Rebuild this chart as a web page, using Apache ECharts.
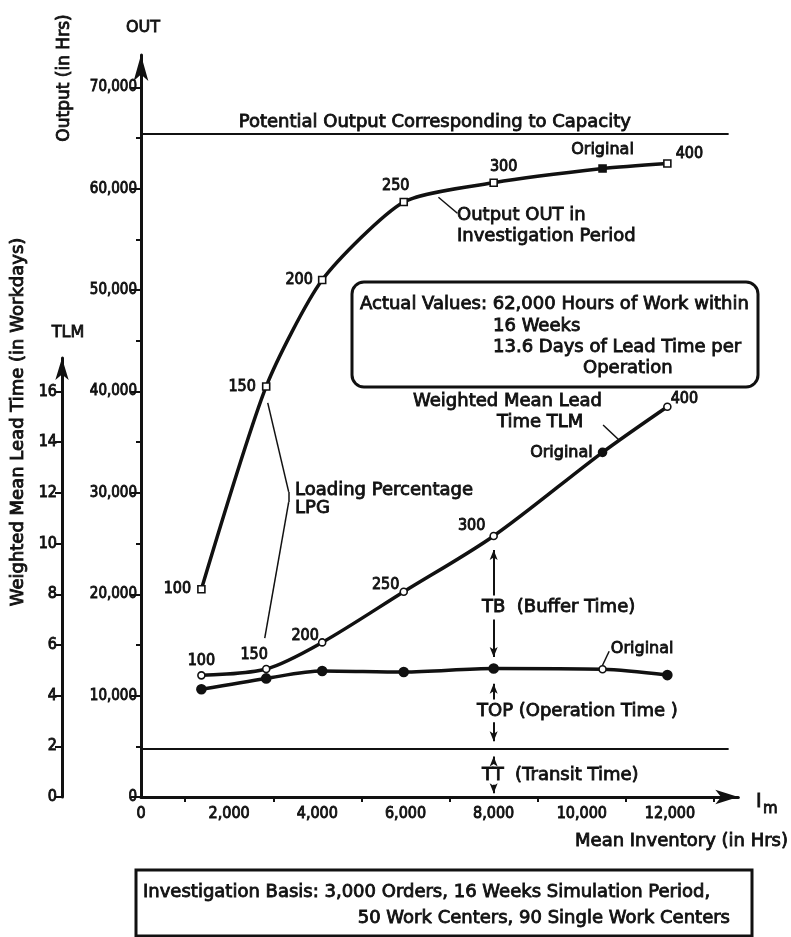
<!DOCTYPE html>
<html>
<head>
<meta charset="utf-8">
<script src="https://cdn.jsdelivr.net/npm/echarts@6/dist/echarts.min.js"></script>
<style>
  html, body { margin: 0; padding: 0; background: #fff; }
  #chart { width: 791px; height: 937px; }
</style>
</head>
<body>
<div id="chart"></div>
<script>
// Simulation runs at different loading percentages (LPG)
const lpgLabels = ['100', '150', '200', '250', '300', 'Original', '400'];
const meanInventory = [1370, 2840, 4110, 5960, 8000, 10470, 11940];      // Im, hours
const outputHours = [20500, 40500, 51000, 58700, 60600, 62000, 62500];   // OUT, hours
const leadTimeTLM = [4.8, 5.05, 6.1, 8.1, 10.3, 13.6, 15.4];             // TLM, workdays
const operationTimeTOP = [4.25, 4.68, 4.97, 4.93, 5.07, 5.04, 4.81];     // TOP, workdays
const originalIndex = 5;

// Reference levels
const potentialOutput = 65400;   // capacity line, hours
const transitTime = 1.9;         // TT level, workdays
const bufferAt = 8000;           // inventory where the time components are shown

// Axis ticks
const outTicks = [0, 10000, 20000, 30000, 40000, 50000, 60000, 70000];
const outMinorTicks = [5000, 15000, 25000, 35000, 45000, 55000, 65000];
const tlmTicks = [0, 2, 4, 6, 8, 10, 12, 14, 16];
const inventoryTicks = [0, 2000, 4000, 6000, 8000, 10000, 12000];
const inventoryMinorTicks = [1000, 3000, 5000, 7000, 9000, 11000, 13000];

// Layout
const INK = '#111';
const FONT = '"DejaVu Sans", sans-serif';
const NUMFONT = '"DejaVu Sans Condensed", "DejaVu Sans", sans-serif';
const outMax = 73200;
const hoursPerDay = 2500;               // 16 workdays share the height of 40,000 hours
const tlmMax = outMax / hoursPerDay;
const plotTop = 55, plotBottom = 140, plotHeight = 937 - plotTop - plotBottom;
const tlmAxisTop = 358;
const tlmAxisMax = tlmMax * (937 - plotBottom - tlmAxisTop) / plotHeight;
const xMax = 13550;
const lineEnd = 13330;
const WEIGHT = 0.85;                    // text outline that thickens the strokes

const fmt = v => Number(v).toLocaleString('en-US');

const outLabelPlace = [
  { position: 'left', distance: 6 },
  { position: 'left', distance: 6 },
  { position: 'left', distance: 5 },
  { position: 'top', distance: 4, offset: [-8, 0] },
  { position: 'top', distance: 4, offset: [10, 0] },
  { position: 'top', distance: 6 },
  { position: 'right', distance: 4, offset: [0, -10] }
];
const tlmLabelPlace = [
  { position: 'top', distance: 2 },
  { position: 'top', distance: 2, offset: [-12, 0] },
  { position: 'left', distance: 3, offset: [4, -7] },
  { position: 'left', distance: 2, offset: [2, -7] },
  { position: 'left', distance: 4, offset: [0, -10] },
  { position: 'left', distance: 5 },
  { position: 'right', distance: 2, offset: [-3, -8] }
];

const heavy = { textBorderColor: INK, textBorderWidth: WEIGHT };
const numFont = Object.assign({ fontFamily: NUMFONT, fontSize: 16, color: INK }, heavy);
const wordFont = Object.assign({ fontFamily: FONT, fontSize: 16, color: INK }, heavy);

const outData = meanInventory.map((x, i) => ({
  value: [x, outputHours[i]],
  itemStyle: { color: i === originalIndex ? INK : '#fff', borderColor: INK, borderWidth: 1.6 },
  label: Object.assign({ show: true, formatter: lpgLabels[i] },
    i === originalIndex ? wordFont : numFont, outLabelPlace[i])
}));
const tlmData = meanInventory.map((x, i) => ({
  value: [x, leadTimeTLM[i]],
  itemStyle: { color: i === originalIndex ? INK : '#fff', borderColor: INK, borderWidth: 1.6 },
  symbolSize: i === originalIndex ? 8 : 7,
  label: Object.assign({ show: true, formatter: lpgLabels[i] },
    i === originalIndex ? wordFont : numFont, tlmLabelPlace[i])
}));
const topData = meanInventory.map((x, i) => ({
  value: [x, operationTimeTOP[i]],
  itemStyle: { color: i === originalIndex ? '#fff' : INK, borderColor: INK, borderWidth: 1.6 },
  symbolSize: i === originalIndex ? 7 : 9,
  label: i === originalIndex
    ? Object.assign({ show: true, formatter: 'Original', position: 'right', distance: 4, offset: [0, -20] }, wordFont)
    : { show: false }
}));

// Component arrows of the lead time at the chosen inventory level
const tlmAt = leadTimeTLM[meanInventory.indexOf(bufferAt)];
const topAt = operationTimeTOP[meanInventory.indexOf(bufferAt)];
const seg = (a, b) => [
  { coord: [bufferAt, a], symbol: 'none' },
  { coord: [bufferAt, b], symbol: 'arrow' }
];
const componentArrows = [
  seg(7.95, tlmAt - 0.55),
  seg(7.0, topAt + 0.45),
  seg(3.85, topAt - 0.6),
  seg(2.95, transitTime + 0.3),
  seg(1.3, transitTime - 0.3),
  seg(0.48, 0.15)
];

const thin = { color: INK, width: 1.5, type: 'solid' };

function note(x, y, text, extra) {
  return {
    type: 'text', x: x, y: y, z: 2,
    style: Object.assign({
      text: text, verticalAlign: 'middle', font: '18px ' + FONT,
      fill: INK, stroke: INK, lineWidth: WEIGHT
    }, extra || {})
  };
}

const axisText = Object.assign({ fontFamily: NUMFONT, fontSize: 16, color: INK }, heavy);

const option = {
  animation: false,
  backgroundColor: '#fff',
  textStyle: { fontFamily: FONT, color: INK },
  grid: [
    { left: 141, top: plotTop, bottom: plotBottom, right: 791 - 141 - xMax * (670 - 141) / 12000 },
    { left: 62, top: tlmAxisTop, bottom: plotBottom, width: 1 }
  ],
  xAxis: [
    {
      type: 'value', gridIndex: 0, min: 0, max: xMax,
      axisLine: { show: true, onZero: false, lineStyle: { color: INK, width: 3 },
                  symbol: ['none', 'arrow'], symbolSize: [11, 23] },
      axisTick: { show: true, length: 5, lineStyle: { color: INK, width: 2 },
                  customValues: inventoryMinorTicks },
      axisLabel: Object.assign({ customValues: inventoryTicks, formatter: fmt, margin: 9 }, axisText),
      splitLine: { show: false }
    },
    { type: 'value', gridIndex: 1, show: false, min: 0, max: 1 }
  ],
  yAxis: [
    {
      type: 'value', gridIndex: 0, min: 0, max: outMax, position: 'left',
      axisLine: { show: true, onZero: false, lineStyle: { color: INK, width: 3 },
                  symbol: ['none', 'arrow'], symbolSize: [11, 26] },
      axisTick: { show: true, length: 10, lineStyle: { color: INK, width: 2 }, customValues: outTicks },
      axisLabel: Object.assign({ customValues: outTicks, formatter: fmt, margin: 4 }, axisText, { fontSize: 15 }),
      splitLine: { show: false }
    },
    { type: 'value', gridIndex: 0, min: 0, max: tlmMax, show: false },
    {
      type: 'value', gridIndex: 1, min: 0, max: tlmAxisMax, position: 'left',
      axisLine: { show: true, onZero: false, lineStyle: { color: INK, width: 3 },
                  symbol: ['none', 'arrow'], symbolSize: [10, 22] },
      axisTick: { show: true, length: 7, lineStyle: { color: INK, width: 2 }, customValues: tlmTicks },
      axisLabel: Object.assign({ customValues: tlmTicks, margin: 5 }, axisText),
      splitLine: { show: false }
    },
    {
      // short ticks between the labelled output values
      type: 'value', gridIndex: 0, min: 0, max: outMax, position: 'left',
      axisLine: { show: false },
      axisTick: { show: true, length: 5, lineStyle: { color: INK, width: 2 }, customValues: outMinorTicks },
      axisLabel: { show: false },
      splitLine: { show: false }
    }
  ],
  series: [
    {
      name: 'Output OUT', type: 'line', xAxisIndex: 0, yAxisIndex: 0,
      data: outData, smooth: 0.22, symbol: 'rect', symbolSize: 7,
      lineStyle: { color: INK, width: 3.5 }, z: 3,
      markLine: {
        silent: true, symbol: 'none', animation: false,
        lineStyle: { color: INK, width: 2, type: 'solid' },
        label: { show: false },
        data: [[
          { coord: [0, potentialOutput] },
          { coord: [lineEnd, potentialOutput],
            label: Object.assign({ show: true, position: 'insideMiddleTop', distance: 3,
                     formatter: 'Potential Output Corresponding to Capacity' }, wordFont, { fontSize: 18 }) }
        ], [
          { coord: [6747, 59170], lineStyle: thin }, { coord: [7177, 57590] }
        ]]
      }
    },
    {
      name: 'Weighted Mean Lead Time TLM', type: 'line', xAxisIndex: 0, yAxisIndex: 1,
      data: tlmData, smooth: 0.3, symbol: 'circle',
      lineStyle: { color: INK, width: 3.5 }, z: 3,
      markLine: {
        silent: true, symbol: 'none', animation: false,
        lineStyle: thin, label: { show: false },
        data: [
          [{ coord: [0, transitTime], lineStyle: { width: 2 } }, { coord: [lineEnd, transitTime] }],
          // leader to the TLM curve
          [{ coord: [10482, 14.68] }, { coord: [10867, 14.05] }],
          // leaders from the LPG label to both curves
          [{ coord: [2875, 15.55] }, { coord: [3350, 12.04] }],
          [{ coord: [3350, 12.04] }, { coord: [3350, 11.64] }],
          [{ coord: [3350, 11.64] }, { coord: [2807, 6.27] }],
          // leader to the original TOP point
          [{ coord: [10470, 5.2] }, { coord: [10620, 5.75] }]
        ]
      }
    },
    {
      name: 'Operation Time TOP', type: 'line', xAxisIndex: 0, yAxisIndex: 1,
      data: topData, smooth: 0.3, symbol: 'circle',
      lineStyle: { color: INK, width: 3.5 }, z: 3,
      markLine: {
        silent: true, animation: false, symbolSize: [6, 10],
        lineStyle: { color: INK, width: 2, type: 'solid' }, label: { show: false },
        data: componentArrows
      }
    }
  ],
  graphic: [
    note(143, 28, 'OUT', { align: 'center', font: '16px ' + FONT }),
    note(68, 333, 'TLM', { align: 'center', font: '16px ' + FONT }),
    Object.assign(note(65, 78, 'Output (in Hrs)', { align: 'center', font: '17px ' + FONT }), { rotation: Math.PI / 2 }),
    Object.assign(note(18, 422, 'Weighted Mean Lead Time (in Workdays)', { align: 'center', font: '18px ' + FONT }),
      { rotation: Math.PI / 2 }),
    note(756, 802, 'I', { font: '19px ' + FONT }),
    note(763, 809, 'm', { font: '15px ' + FONT }),
    note(788, 841, 'Mean Inventory (in Hrs)', { align: 'right' }),
    note(457, 215, 'Output OUT in'),
    note(457, 236, 'Investigation Period'),
    note(413, 401, 'Weighted Mean Lead'),
    note(497, 422, 'Time TLM'),
    note(295, 490, 'Loading Percentage'),
    note(295, 508, 'LPG'),
    note(482, 607, 'TB  (Buffer Time)'),
    note(477, 711, 'TOP (Operation Time )'),
    note(482, 775, 'TT  (Transit Time)'),
    // box with the actual values
    { type: 'rect', shape: { x: 352, y: 282, width: 406, height: 105, r: 12 },
      style: { fill: '#fff', stroke: INK, lineWidth: 3 }, z: 1 },
    note(360, 304, 'Actual Values: 62,000 Hours of Work within'),
    note(493, 326, '16 Weeks'),
    note(493, 347, '13.6 Days of Lead Time per'),
    note(583, 368, 'Operation'),
    // investigation basis box
    { type: 'rect', shape: { x: 136, y: 870, width: 616, height: 66 },
      style: { fill: '#fff', stroke: INK, lineWidth: 3 }, z: 1 },
    note(143, 892, 'Investigation Basis: 3,000 Orders, 16 Weeks Simulation Period,'),
    note(730, 918, '50 Work Centers, 90 Single Work Centers', { align: 'right' })
  ]
};

const chart = echarts.init(document.getElementById('chart'), null, { renderer: 'canvas' });
chart.setOption(option);
</script>
</body>
</html>
